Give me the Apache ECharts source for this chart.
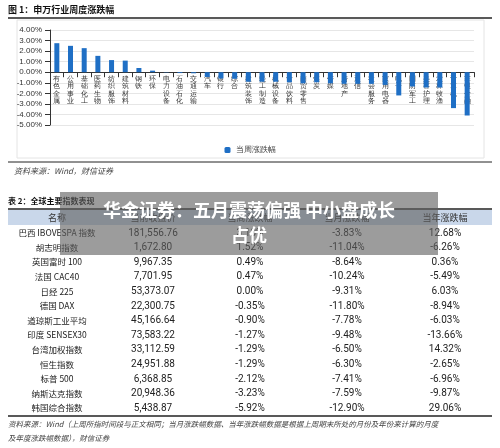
<!DOCTYPE html>
<html><head><meta charset="utf-8">
<script src="https://cdn.jsdelivr.net/npm/echarts@6/dist/echarts.min.js"></script>
<style>html,body{margin:0;padding:0;background:#fff}#main{width:500px;height:448px}</style>
</head><body><div id="main"></div>
<script>
var industries = ['有色金属','公用事业','基础化工','医药生物','纺织服饰','建筑材料','钢铁','环保','电力设备','石油石化','交通运输','汽车','银行','综合','建筑装饰','轻工制造','机械设备','食品饮料','商贸零售','煤炭','传媒','房地产','通信','社会服务','家用电器','电子','国防军工','美容护理','农林牧渔','计算机','非银金融'];
var weekChange = [2.75,2.5,2.28,1.55,1.15,1.1,0.4,0.15,-0.03,-0.08,-0.1,-0.45,-0.6,-0.62,-0.9,-0.9,-0.9,-0.95,-1.05,-0.95,-1.05,-1.1,-1.1,-1.1,-1.2,-2.2,-1.35,-1.45,-1.45,-3.4,-4.1];

var idxNames = ['巴西 IBOVESPA 指数','胡志明指数','英国富时 100','法国 CAC40','日经 225','德国 DAX','道琼斯工业平均','印度 SENSEX30','台湾加权指数','恒生指数','标普 500','纳斯达克指数','韩国综合指数'];
var idxClose = ['181,556.76','1,672.80','9,967.35','7,701.95','53,373.07','22,300.75','45,166.64','73,583.22','33,112.59','24,951.88','6,368.85','20,948.36','5,438.87'];
var idxWeek = ['3.10%','1.52%','0.49%','0.47%','0.00%','-0.35%','-0.90%','-1.27%','-1.29%','-1.29%','-2.12%','-3.23%','-5.92%'];
var idxMonth = ['-3.83%','-11.04%','-8.64%','-10.24%','-9.31%','-11.80%','-7.78%','-9.48%','-6.50%','-6.30%','-7.41%','-7.59%','-12.90%'];
var idxYear = ['12.68%','-6.26%','0.36%','-5.49%','6.03%','-8.94%','-6.03%','-13.66%','14.32%','-2.65%','-6.96%','-9.87%','29.06%'];
var headers = ['名称','当前收盘价','当周涨跌幅','当月涨跌幅','当年涨跌幅'];

var chart = echarts.init(document.getElementById('main'));
var cols = [57, 153, 250, 347, 445];
var g = [];
function t(x, y, s, st) {
  g.push({type: 'text', x: x, y: y, style: Object.assign({text: s, fill: '#222', font: '9px "Noto Sans CJK SC"', align: 'center', verticalAlign: 'middle'}, st || {})});
}
g.push({type: 'text', x: 8, y: 5, style: {text: '图 1：申万行业周度涨跌幅', fill: '#111', font: 'bold 9px "Noto Sans CJK SC"'}});
g.push({type: 'line', shape: {x1: 8, y1: 18, x2: 492, y2: 18}, style: {stroke: '#222', lineWidth: 1.5}});
g.push({type: 'rect', shape: {x: 17, y: 20, width: 467, height: 138}, style: {fill: 'none', stroke: '#e4e4e4'}});
g.push({type: 'line', shape: {x1: 8, y1: 162, x2: 492, y2: 162}, style: {stroke: '#222', lineWidth: 1}});
g.push({type: 'text', x: 14, y: 167, style: {text: '资料来源：Wind，财信证券', fill: '#444', font: 'italic 8px "Noto Sans CJK SC"'}});
g.push({type: 'text', x: 8, y: 197, style: {text: '表 2：全球主要指数表现', fill: '#111', font: 'bold 8px "Noto Sans CJK SC"'}});
g.push({type: 'line', shape: {x1: 8, y1: 209, x2: 492, y2: 209}, style: {stroke: '#222', lineWidth: 1.5}});
g.push({type: 'rect', shape: {x: 8, y: 210, width: 484, height: 15}, style: {fill: '#c9d7ea'}});
headers.forEach(function (h, i) { t(cols[i], 218, h, {fill: '#333'}); });
idxNames.forEach(function (n, r) {
  var y = 233 + r * 14.6;
  t(cols[0], y, n, {font: '8.5px "Noto Sans CJK SC"'});
  t(cols[1], y, idxClose[r], {font: '10px Roboto'});
  t(cols[2], y, idxWeek[r], {font: '10px Roboto'});
  t(cols[3], y, idxMonth[r], {font: '10px Roboto'});
  t(cols[4], y, idxYear[r], {font: '10px Roboto'});
});
g.push({type: 'line', shape: {x1: 8, y1: 416, x2: 492, y2: 416}, style: {stroke: '#222', lineWidth: 1.5}});
g.push({type: 'text', x: 8, y: 420, style: {text: '资料来源：Wind（上周所指时间段与正文相同；当月涨跌幅数据、当年涨跌幅数据是根据上周期末所处的月份及年份来计算的月度', fill: '#444', font: 'italic 7.5px "Noto Sans CJK SC"'}});
g.push({type: 'text', x: 8, y: 434, style: {text: '及年度涨跌幅数据），财信证券', fill: '#444', font: 'italic 7.5px "Noto Sans CJK SC"'}});
g.push({type: 'rect', shape: {x: 60, y: 192, width: 378, height: 63}, style: {fill: 'rgba(95,95,95,0.62)'}});
g.push({type: 'text', x: 249, y: 198, style: {text: '华金证券：五月震荡偏强 中小盘成长\n占优', fill: '#fff', font: 'bold 18px "Noto Sans CJK SC"', align: 'center', lineHeight: 25}});

chart.setOption({
  animation: false,
  grid: {left: 50, right: 26, top: 30, bottom: 323},
  legend: {top: 141, left: 'center', itemWidth: 6, itemHeight: 6, textStyle: {fontSize: 8, color: '#444'}, data: ['当周涨跌幅']},
  xAxis: {
    type: 'category', data: industries,
    axisLine: {onZero: true, lineStyle: {color: '#333'}},
    axisTick: {show: true, lineStyle: {color: '#333'}},
    axisLabel: {interval: 0, fontSize: 7, color: '#333', lineHeight: 7.5, margin: -50, verticalAlign: 'top',
      formatter: function (v) { return v.split('').join('\n'); }}
  },
  yAxis: {
    type: 'value', min: -5, max: 4, interval: 1,
    axisLine: {show: true, lineStyle: {color: '#333'}},
    axisTick: {show: true},
    axisLabel: {fontSize: 8, color: '#333', formatter: function (v) { return v.toFixed(2) + '%'; }},
    splitLine: {lineStyle: {color: '#e6e6e6'}}
  },
  series: [{name: '当周涨跌幅', type: 'bar', data: weekChange, barWidth: 5, itemStyle: {color: '#1f6fc5'}}],
  graphic: g
});
</script></body></html>
